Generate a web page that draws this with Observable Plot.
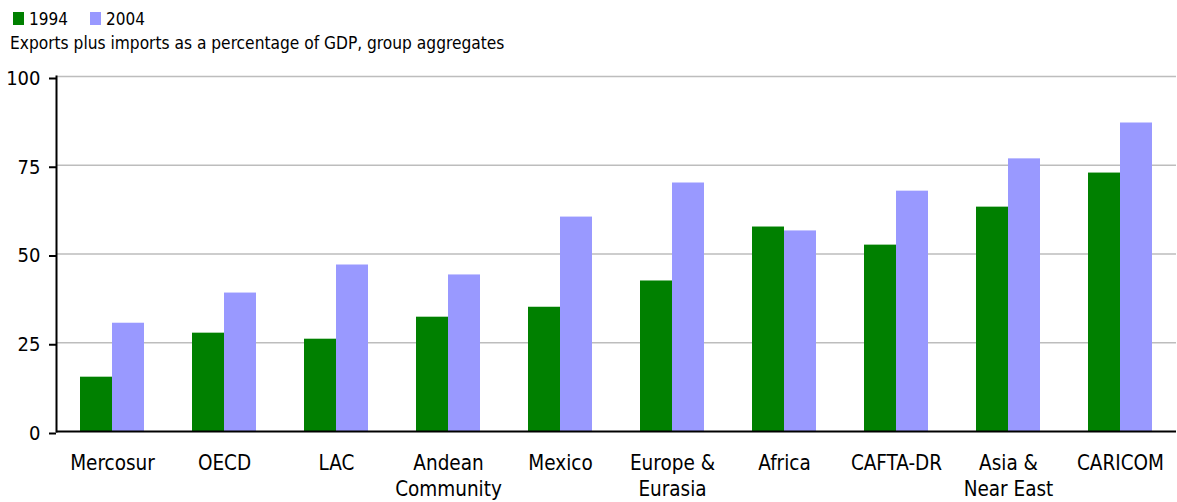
<!DOCTYPE html>
<html>
<head>
<meta charset="utf-8">
<script src="https://cdn.jsdelivr.net/npm/d3@7"></script>
<script src="https://cdn.jsdelivr.net/npm/@observablehq/plot@0.6"></script>
<style>
  html, body { margin: 0; padding: 0; background: #fff; }
  body { width: 1177px; height: 502px; overflow: hidden; }
  svg text { font-family: 'DejaVu Sans Condensed', 'DejaVu Sans', sans-serif; font-stretch: condensed; }
  #header, #chart { display: block; height: auto; }
  #header svg, #chart svg { display: block; }
</style>
</head>
<body>
<div id="header"></div>
<div id="chart"></div>
<script>
const categories = ["Mercosur", "OECD", "LAC", "Andean Community", "Mexico", "Europe & Eurasia", "Africa", "CAFTA-DR", "Asia & Near East", "CARICOM"];
const categoryLabels = ["Mercosur", "OECD", "LAC", "Andean\nCommunity", "Mexico", "Europe &\nEurasia", "Africa", "CAFTA-DR", "Asia &\nNear East", "CARICOM"];
const series = ["1994", "2004"];
const values1994 = [15.3, 27.7, 26.0, 32.2, 35.0, 42.4, 57.6, 52.5, 63.2, 72.8];
const values2004 = [30.5, 39.0, 46.9, 44.1, 60.4, 70.0, 56.5, 67.7, 76.8, 86.9];
const yTicks = [0, 25, 50, 75, 100];
const subtitle = "Exports plus imports as a percentage of GDP, group aggregates";

const colors = {"1994": "#008000", "2004": "#9999ff"};
const labelMap = new Map(categories.map((c, i) => [c, categoryLabels[i]]));

// Header: legend + subtitle
const W = 1177;
const header = d3.select("#header").append("svg").attr("width", W).attr("height", 60);
const legendX = [13, 90];
series.forEach((s, i) => {
  header.append("rect").attr("x", legendX[i]).attr("y", 12).attr("width", 11).attr("height", 13).attr("fill", colors[s]);
  header.append("text").attr("x", legendX[i] + 16).attr("y", 25).attr("font-size", 17).attr("fill", "#000").text(s);
});
header.append("text").attr("x", 10).attr("y", 49).attr("font-size", 17.2).attr("fill", "#000").text(subtitle);

const rows1994 = categories.map((c, i) => ({category: c, value: values1994[i]}));
const rows2004 = categories.map((c, i) => ({category: c, value: values2004[i]}));

const chart = Plot.plot({
  width: W,
  height: 442,
  marginTop: 16,
  marginBottom: 71,
  marginLeft: 56,
  marginRight: 1,
  style: "font-family: 'DejaVu Sans Condensed','DejaVu Sans',sans-serif; font-stretch: condensed; font-size: 20px; color: #000; background: #fff;",
  x: {domain: categories, padding: 0, axis: null},
  y: {domain: [0, 100], axis: null},
  marks: [
    Plot.ruleY(yTicks.filter(d => d > 0), {stroke: "#bdbdbd", strokeWidth: 1.6}),
    Plot.barY(rows1994, {x: "category", y: "value", fill: colors["1994"], insetLeft: 24, insetRight: 56}),
    Plot.barY(rows2004, {x: "category", y: "value", fill: colors["2004"], insetLeft: 56, insetRight: 24}),
    Plot.ruleY([0], {stroke: "#000", strokeWidth: 2}),
    Plot.axisY({ticks: yTicks, tickSize: 7, tickPadding: 9, fontSize: 20, strokeWidth: 2, dy: 2, label: null, stroke: "#000"}),
    Plot.axisX({tickSize: 0, tickPadding: 20, fontSize: 20.5, lineHeight: 1.27, tickFormat: d => labelMap.get(d), label: null}),
    Plot.frame({anchor: "left", stroke: "#000", strokeWidth: 2})
  ]
});
document.getElementById("chart").appendChild(chart);
</script>
</body>
</html>
